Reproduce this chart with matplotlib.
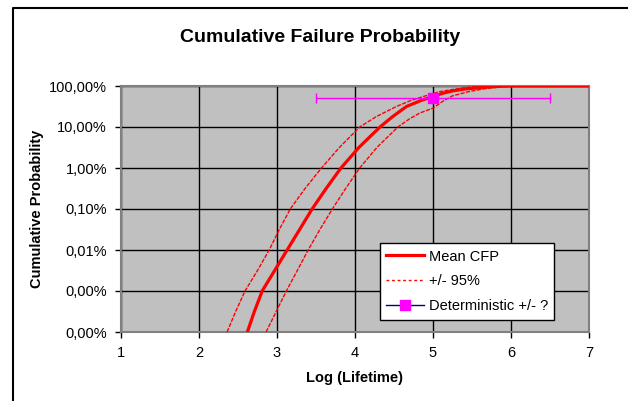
import matplotlib
matplotlib.use("Agg")
import matplotlib.pyplot as plt
from matplotlib.lines import Line2D
import numpy as np

plt.rcParams['font.family'] = ['Liberation Sans', 'DejaVu Sans']

# Log(Lifetime) vs log10(cumulative probability)
mean_x = [2.62, 2.71, 2.81, 2.97, 3.13, 3.29, 3.45, 3.63, 3.82, 4.05, 4.32, 4.48, 4.66,
          4.85, 5.00, 5.12, 5.25, 5.42, 5.68, 5.82, 5.95, 7.00]
mean_lp = [-6, -5.5, -5, -4.5, -4, -3.5, -3, -2.5, -2, -1.5, -1, -0.75, -0.5,
           -0.35, -0.26, -0.18, -0.12, -0.07, -0.03, -0.01, 0, 0]

upper_x = [2.36, 2.47, 2.59, 2.75, 2.90, 3.03, 3.17, 3.36, 3.57, 3.80, 4.06, 4.27, 4.53,
           4.72, 4.87, 5.08, 5.30, 5.45, 5.60, 5.90, 7.00]
upper_lp = [-6, -5.5, -5, -4.5, -4, -3.5, -3, -2.5, -2, -1.5, -1, -0.75, -0.5,
            -0.35, -0.26, -0.14, -0.07, -0.03, -0.01, 0, 0]

lower_x = [2.86, 2.99, 3.12, 3.26, 3.40, 3.55, 3.71, 3.88, 4.06, 4.28, 4.55, 4.70, 4.83,
           5.00, 5.12, 5.25, 5.45, 5.68, 5.90, 6.15, 7.00]
lower_lp = [-6, -5.5, -5, -4.5, -4, -3.5, -3, -2.5, -2, -1.5, -1, -0.80, -0.66,
            -0.54, -0.38, -0.24, -0.14, -0.06, -0.02, 0, 0]

det_x = [5.0]
det_p = [0.5]
det_xerr = [1.5]

xticks = [1, 2, 3, 4, 5, 6, 7]
yticks = [1, 0.1, 0.01, 0.001, 1e-4, 1e-5, 1e-6]
ytick_labels = ['100,00%', '10,00%', '1,00%', '0,10%', '0,01%', '0,00%', '0,00%']

fig = plt.figure(figsize=(6.28, 4.01), dpi=100)
ax = fig.add_axes([121/628, 1-332/401, 468/628, 246/401])
ax.set_facecolor('#C0C0C0')

ax.plot(mean_x, 10**np.array(mean_lp), color='#FF0000', lw=2.3, label='Mean CFP', zorder=4)
ax.plot(upper_x, 10**np.array(upper_lp), color='#FF0000', lw=1.0, ls=(0, (3, 1)), label='+/- 95%', zorder=3)
ax.plot(lower_x, 10**np.array(lower_lp), color='#FF0000', lw=1.0, ls=(0, (3, 1)), zorder=3)
ax.errorbar(det_x, det_p, xerr=det_xerr, fmt='none', ecolor='#FF00FF', elinewidth=1, capsize=3.5, zorder=5)
ax.plot(det_x, det_p, ls='none', marker='s', ms=7, color='#FF00FF', zorder=6)

ax.set_yscale('log')
ax.set_xlim(1, 7)
ax.set_ylim(1e-6, 1)
ax.set_xticks(xticks)
ax.set_xticklabels([str(v) for v in xticks])
ax.set_yticks(yticks)
ax.set_yticklabels(ytick_labels)
ax.minorticks_off()
ax.tick_params(labelsize=10.5, length=4, width=1, color='black', pad=6)
ax.grid(True, color='black', lw=1)
ax.set_axisbelow(True)
for s in ax.spines.values():
    s.set_color('#808080')
    s.set_linewidth(1.5)

ax.set_xlabel('Log (Lifetime)', fontsize=10.5, fontweight='bold', labelpad=8)
ax.set_ylabel('Cumulative Probability', fontsize=10.5, fontweight='bold', labelpad=4)
fig.text(0.51, 1-37/401, 'Cumulative Failure Probability', ha='center', va='center',
         fontsize=14, fontweight='bold')

handles = [
    Line2D([], [], color='#FF0000', lw=2.3),
    Line2D([], [], color='#FF0000', lw=1.0, ls=(0, (2, 2))),
    Line2D([], [], color='#000080', lw=1.0, marker='s', ms=7, mfc='#FF00FF', mec='#FF00FF'),
]
leg = ax.legend(handles, ['Mean CFP', '+/- 95%', 'Deterministic +/- ?'],
                loc='upper left', bbox_to_anchor=(0.553, 0.362), fontsize=10.5,
                frameon=True, fancybox=False, framealpha=1, edgecolor='black',
                borderpad=0.45, handlelength=2.6, handletextpad=0.3,
                labelspacing=0.75, borderaxespad=0)
leg.get_frame().set_linewidth(1)

# chart area border (left and top)
fig.add_artist(Line2D([13/628, 13/628, 1.0], [0, 1-7.5/401, 1-7.5/401],
                      transform=fig.transFigure, color='black', lw=1.5))

fig.savefig('out.png', dpi=100)
